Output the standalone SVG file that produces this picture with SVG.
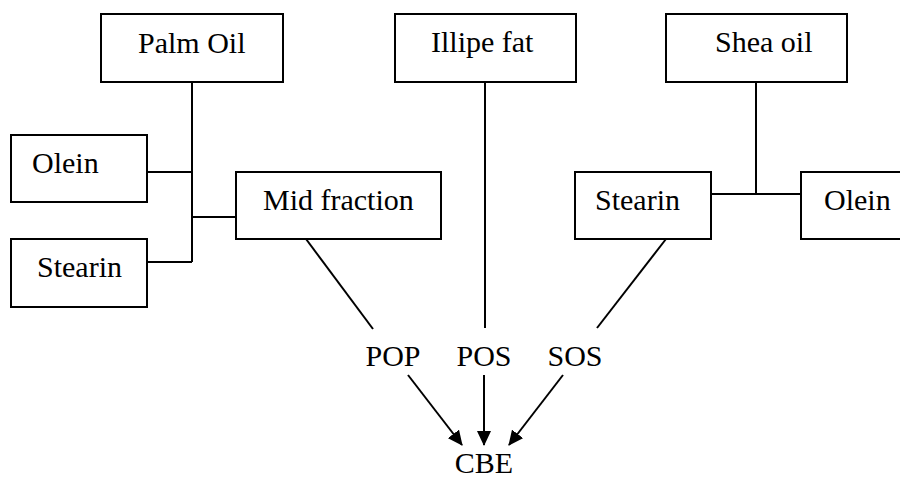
<svg xmlns="http://www.w3.org/2000/svg" width="900" height="478" viewBox="0 0 900 478">
  <style>
    .box { fill: #ffffff; stroke: #000000; stroke-width: 2; }
    .lbl { font-family: "Liberation Serif", "Times New Roman", serif; font-size: 30px; fill: #000000; }
    .ln { stroke: #000000; stroke-width: 2; fill: none; }
  </style>
  <defs>
    <marker id="arrow" markerWidth="15" markerHeight="14" refX="14" refY="7" orient="auto" markerUnits="userSpaceOnUse">
      <path d="M0,0 L15,7 L0,14 z" fill="#000000"/>
    </marker>
  </defs>
  <rect width="900" height="478" fill="#ffffff"/>

  <g id="connectors">
    <!-- palm oil fractionation -->
    <path class="ln" d="M192,82 V262 M147,172 H192 M147,262 H192 M192,217 H236"/>
    <!-- shea oil fractionation -->
    <path class="ln" d="M756,82 V194 M711,194 H801"/>
    <!-- sources to triglycerides -->
    <path class="ln" d="M306,239 L373,329"/>
    <path class="ln" d="M485,82 V328"/>
    <path class="ln" d="M666,239 L597,328"/>
    <!-- triglycerides to CBE -->
    <path class="ln" d="M408,375 L462,445" marker-end="url(#arrow)"/>
    <path class="ln" d="M484,375 L484,445" marker-end="url(#arrow)"/>
    <path class="ln" d="M563,375 L509,445" marker-end="url(#arrow)"/>
  </g>

  <g id="palm-oil"><rect class="box" x="101" y="14" width="182" height="68"/><text class="lbl" x="138" y="53">Palm Oil</text></g>
  <g id="illipe-fat"><rect class="box" x="395" y="14" width="181" height="68"/><text class="lbl" x="431" y="52">Illipe fat</text></g>
  <g id="shea-oil"><rect class="box" x="666" y="14" width="181" height="68"/><text class="lbl" x="715" y="52">Shea oil</text></g>
  <g id="palm-olein"><rect class="box" x="11" y="135" width="136" height="67"/><text class="lbl" x="32" y="173">Olein</text></g>
  <g id="palm-stearin"><rect class="box" x="11" y="239" width="136" height="68"/><text class="lbl" x="37" y="277">Stearin</text></g>
  <g id="mid-fraction"><rect class="box" x="236" y="172" width="205" height="67"/><text class="lbl" x="263" y="210">Mid fraction</text></g>
  <g id="shea-stearin"><rect class="box" x="575" y="172" width="136" height="67"/><text class="lbl" x="595" y="210">Stearin</text></g>
  <g id="shea-olein"><rect class="box" x="801" y="172" width="120" height="67"/><text class="lbl" x="824" y="210">Olein</text></g>
  <g id="pop"><text class="lbl" x="393" y="366" text-anchor="middle">POP</text></g>
  <g id="pos"><text class="lbl" x="484" y="366" text-anchor="middle">POS</text></g>
  <g id="sos"><text class="lbl" x="575" y="366" text-anchor="middle">SOS</text></g>
  <g id="cbe"><text class="lbl" x="484" y="473" text-anchor="middle">CBE</text></g>
</svg>
